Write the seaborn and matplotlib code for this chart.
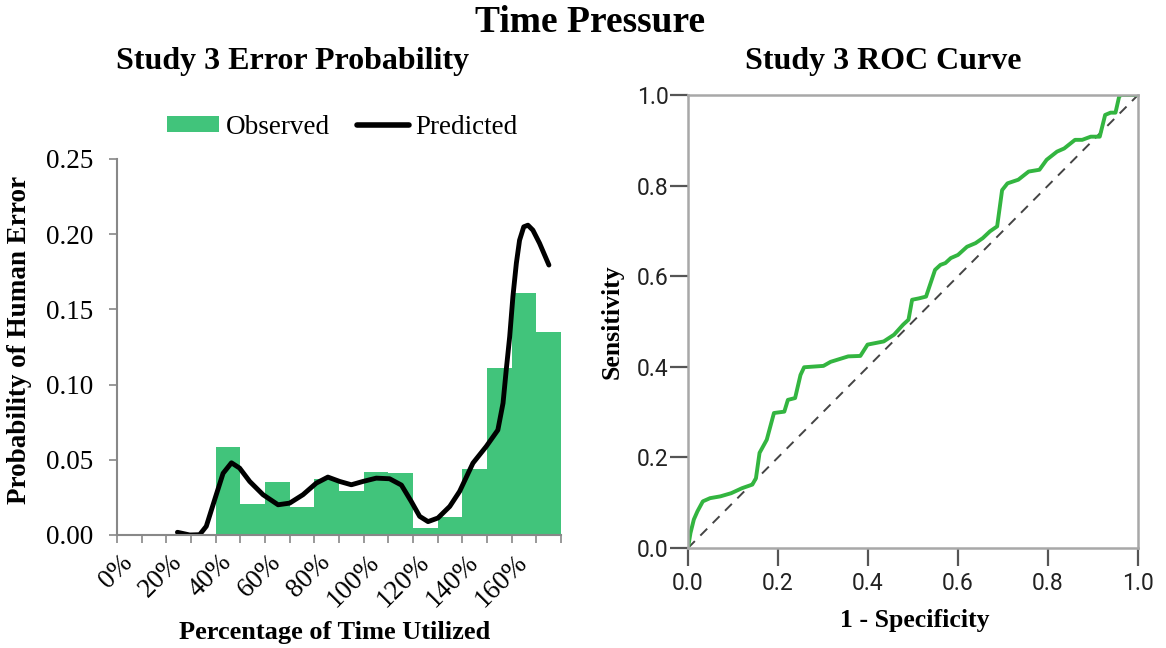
import numpy as np
import pandas as pd
import matplotlib
matplotlib.use("Agg")
import matplotlib.pyplot as plt
import seaborn as sns
from matplotlib.patches import Patch
from matplotlib.lines import Line2D

# ---------------- data ----------------
bin_start = [40, 50, 60, 70, 80, 90, 100, 110, 120, 130, 140, 150, 160, 170]
observed = [0.0585, 0.0206, 0.0354, 0.0184, 0.0374, 0.0290, 0.0419, 0.0412,
            0.0044, 0.0117, 0.0438, 0.1110, 0.1610, 0.1353]

pred_x = [24.5, 29.5, 33.5, 36.2, 39.6, 43.0, 46.4, 49.7, 53.8, 59.2, 65.3, 70.0,
          75.4, 80.8, 85.5, 90.3, 95.0, 99.7, 105.1, 110.5, 115.3, 119.3, 122.7,
          126.1, 130.1, 134.9, 138.9, 144.3, 149.7, 154.4, 156.5, 157.8, 159.2,
          160.5, 161.9, 163.2, 164.9, 166.6, 168.6, 171.3, 175.1]
pred_y = [0.0018, 0.0000, 0.0002, 0.0058, 0.0235, 0.0410, 0.0480, 0.0445, 0.0356,
          0.0268, 0.0201, 0.0212, 0.0268, 0.0345, 0.0385, 0.0356, 0.0334, 0.0356,
          0.0378, 0.0374, 0.0332, 0.0223, 0.0124, 0.0089, 0.0113, 0.0190, 0.0290,
          0.0478, 0.0589, 0.0698, 0.0877, 0.1098, 0.1319, 0.1585, 0.1807, 0.1960,
          0.2049, 0.2060, 0.2027, 0.1940, 0.1795]

x_tick_labels = ["0%", "20%", "40%", "60%", "80%", "100%", "120%", "140%", "160%"]

roc_fpr = [0.0, 0.0055, 0.013, 0.021, 0.033, 0.049, 0.072, 0.096, 0.120, 0.143,
           0.151, 0.159, 0.175, 0.191, 0.214, 0.222, 0.238, 0.250, 0.258, 0.301,
           0.317, 0.356, 0.383, 0.399, 0.435, 0.458, 0.478, 0.490, 0.498, 0.513,
           0.529, 0.549, 0.561, 0.572, 0.584, 0.600, 0.620, 0.639, 0.655, 0.671,
           0.687, 0.698, 0.710, 0.734, 0.757, 0.781, 0.797, 0.820, 0.836, 0.860,
           0.876, 0.895, 0.915, 0.927, 0.939, 0.950, 0.958, 0.962, 1.0]
roc_tpr = [0.0, 0.033, 0.063, 0.081, 0.103, 0.110, 0.114, 0.121, 0.132, 0.140,
           0.154, 0.210, 0.239, 0.298, 0.301, 0.327, 0.331, 0.382, 0.399, 0.402,
           0.411, 0.423, 0.424, 0.449, 0.456, 0.471, 0.493, 0.504, 0.548, 0.551,
           0.555, 0.614, 0.625, 0.629, 0.640, 0.647, 0.665, 0.673, 0.684, 0.699,
           0.710, 0.790, 0.805, 0.813, 0.831, 0.835, 0.857, 0.875, 0.882, 0.901,
           0.901, 0.908, 0.908, 0.956, 0.961, 0.961, 0.996, 1.0, 1.0]
roc_ticks = [0.0, 0.2, 0.4, 0.6, 0.8, 1.0]

# ---------------- style ----------------
sns.set_style("white")
plt.rcParams['font.family'] = ['Liberation Serif', 'DejaVu Serif']
plt.rcParams['text.color'] = 'black'
plt.rcParams['axes.labelcolor'] = 'black'
plt.rcParams['xtick.color'] = 'black'
plt.rcParams['ytick.color'] = 'black'

BAR_GREEN = "#41C47B"
ROC_GREEN = "#33B540"

fig = plt.figure(figsize=(11.66, 6.48), dpi=100)
W, H = 1166, 648

def ax_rect(x0, y0, x1, y1):
    return [x0 / W, 1 - y1 / H, (x1 - x0) / W, (y1 - y0) / H]

ax1 = fig.add_axes(ax_rect(117, 159, 561, 535))
ax2 = fig.add_axes(ax_rect(688, 95, 1138, 548))

# ---------------- left chart ----------------
bin_centers = [b + 5 for b in bin_start]
edges = bin_start + [bin_start[-1] + 10]
sns.histplot(x=bin_centers, weights=observed, bins=edges, color=BAR_GREEN,
             alpha=1, linewidth=0, edgecolor=None, ax=ax1)
sns.lineplot(x=pred_x, y=pred_y, color="black", linewidth=3.5, ax=ax1,
             solid_joinstyle="round", solid_capstyle="round")

ax1.set_xlim(0, 180)
ax1.set_ylim(0, 0.25)
ax1.set_yticks([0, 0.05, 0.10, 0.15, 0.20, 0.25])
ax1.set_yticklabels(["0.00", "0.05", "0.10", "0.15", "0.20", "0.25"], fontsize=19.5)
ax1.set_xticks(np.arange(0, 181, 10))
ax1.set_xticklabels([])
ax1.set_xticks([5 + 20 * i for i in range(len(x_tick_labels))], minor=True)
ax1.set_xticklabels(x_tick_labels, minor=True, rotation=45, ha="right",
                    va="center", rotation_mode="anchor", fontsize=19.5)
ax1.tick_params(axis="x", which="minor", length=0, pad=17)
ax1.tick_params(axis="x", which="major", length=6, width=1.2, color="#888888",
                direction="out", bottom=True)
ax1.tick_params(axis="y", length=6, width=1.2, color="#888888", direction="out",
                left=True, pad=11)
for s in ["top", "right"]:
    ax1.spines[s].set_visible(False)
for s in ["left", "bottom"]:
    ax1.spines[s].set_color("#888888")
    ax1.spines[s].set_linewidth(1.5)
ax1.set_xlabel("")
ax1.set_ylabel("")

fig.text(20 / W, 1 - 340 / H, "Probability of Human Error", rotation=90,
         ha="center", va="center", fontsize=19.5, fontweight="bold")
fig.text(335 / W, 1 - 632 / H, "Percentage of Time Utilized",
         ha="center", va="center", fontsize=19, fontweight="bold")

handles = [Patch(facecolor=BAR_GREEN, edgecolor="none", label="Observed"),
           Line2D([0], [0], color="black", linewidth=4, label="Predicted",
                  solid_capstyle="round")]
ax1.legend(handles=handles, loc="center", bbox_to_anchor=(0.507, 1.085), ncol=2,
           frameon=False, fontsize=19.5, handlelength=1.95, handleheight=0.52,
           columnspacing=1.0, handletextpad=0.22, borderpad=0, borderaxespad=0)

# ---------------- right chart ----------------
sns.lineplot(x=[0, 1], y=[0, 1], color="#444444", linewidth=1.4,
             linestyle=(0, (5, 4)), ax=ax2)
sns.lineplot(x=roc_fpr, y=roc_tpr, color=ROC_GREEN, linewidth=2.8, ax=ax2,
             sort=False, estimator=None)
ax2.set_xlim(0, 1)
ax2.set_ylim(0, 1)
ax2.set_xticks(roc_ticks)
ax2.set_yticks(roc_ticks)
tick_font = ['Liberation Sans Narrow', 'Roboto', 'DejaVu Sans']
ax2.set_xticklabels([f"{t:.1f}" for t in roc_ticks], fontsize=16.5, family=tick_font,
                    color="#222222")
ax2.set_yticklabels([f"{t:.1f}" for t in roc_ticks], fontsize=16.5, family=tick_font,
                    color="#222222")
ax2.tick_params(axis="x", length=13, width=1.6, color="#555555", direction="out",
                bottom=True, pad=4)
ax2.tick_params(axis="y", length=13, width=1.6, color="#555555", direction="out",
                left=True, pad=1)
for s in ax2.spines.values():
    s.set_color("#A8A8A8")
    s.set_linewidth(1.8)
ax2.set_xlabel("")
ax2.set_ylabel("")
fig.text(612 / W, 1 - 322 / H, "Sensitivity", rotation=90, ha="center",
         va="center", fontsize=18.5, fontweight="bold")
fig.text(915 / W, 1 - 620 / H, "1 - Specificity", ha="center", va="center",
         fontsize=18.5, fontweight="bold")

# ---------------- titles ----------------
fig.text(590 / W, 1 - 22 / H, "Time Pressure", ha="center", va="center",
         fontsize=27, fontweight="bold")
fig.text(293 / W, 1 - 62 / H, "Study 3 Error Probability", ha="center",
         va="center", fontsize=23, fontweight="bold")
fig.text(883 / W, 1 - 62 / H, "Study 3 ROC Curve", ha="center", va="center",
         fontsize=23, fontweight="bold")

fig.savefig("out.png", dpi=100)
